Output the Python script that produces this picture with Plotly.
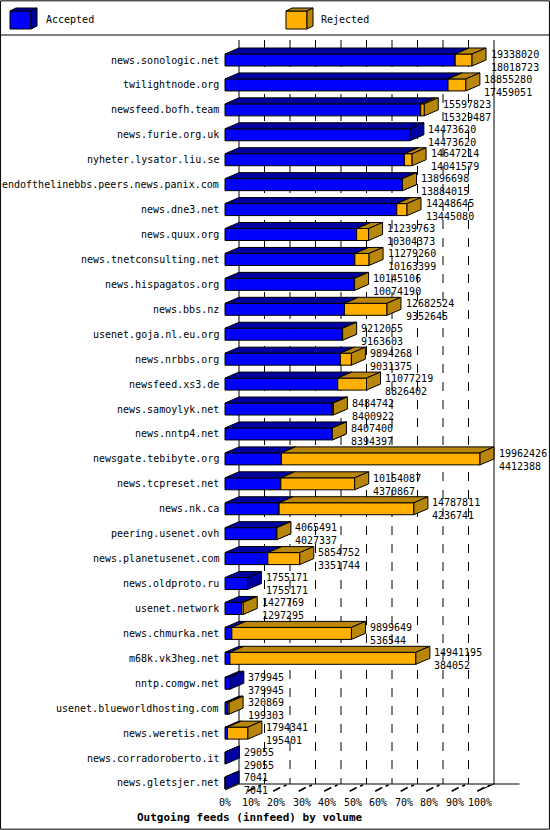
import plotly.graph_objects as go

feeds = ["news.sonologic.net", "twilightnode.org", "newsfeed.bofh.team", "news.furie.org.uk",
         "nyheter.lysator.liu.se", "endofthelinebbs.peers.news.panix.com", "news.dne3.net",
         "news.quux.org", "news.tnetconsulting.net", "news.hispagatos.org", "news.bbs.nz",
         "usenet.goja.nl.eu.org", "news.nrbbs.org", "newsfeed.xs3.de", "news.samoylyk.net",
         "news.nntp4.net", "newsgate.tebibyte.org", "news.tcpreset.net", "news.nk.ca",
         "peering.usenet.ovh", "news.planetusenet.com", "news.oldproto.ru", "usenet.network",
         "news.chmurka.net", "m68k.vk3heg.net", "nntp.comgw.net", "usenet.blueworldhosting.com",
         "news.weretis.net", "news.corradoroberto.it", "news.gletsjer.net"]
offered = [19338020, 18855280, 15597823, 14473620, 14647214, 13896698, 14248645, 11239763,
           11279260, 10145106, 12682524, 9212055, 9894268, 11077219, 8484742, 8407400,
           19962426, 10154087, 14787811, 4065491, 5854752, 1755171, 1427769, 9899649,
           14941195, 379945, 320869, 1794341, 29055, 7041]
accepted = [18018723, 17459051, 15329487, 14473620, 14041579, 13884015, 13445080, 10304373,
            10163399, 10074190, 9352645, 9163603, 9031375, 8826402, 8400922, 8394397,
            4412388, 4370867, 4236741, 4027337, 3351744, 1755171, 1297295, 536544,
            384052, 379945, 199303, 195401, 29055, 7041]
ticks = list(range(0, 101, 10))

W, H = 550, 830
X0, XSCALE = 225, 2.55        # px of 0%, px per %
Y0, YSTEP = 60, 24.93         # px of first row center, px per row
D = 14 / XSCALE               # depth in %
DY = 6 / YSTEP                # depth in rows
HH = 6 / YSTEP                # half bar height
FONT = "DejaVu Sans Mono"

BLUE, BLUE_D = "#0000ff", "#0000a0"
ORNG, ORNG_D = "#ffb000", "#b8860b"

mx = max(offered)
acc_pct = [a / mx * 100 for a in accepted]
off_pct = [o / mx * 100 for o in offered]

fig = go.Figure()

def px2row(p):
    return (p - Y0) / YSTEP

y_top, y_floor_back, y_floor_front = px2row(40), px2row(784), px2row(790)

# back wall gridlines
for v in ticks:
    fig.add_trace(go.Scatter(x=[v + D, v + D], y=[y_top, y_floor_back], mode="lines",
                             line=dict(color="black", width=1,
                                       dash="solid" if v in (0, 100) else "dash"),
                             hoverinfo="skip", showlegend=False))
# floor
fig.add_trace(go.Scatter(x=[0, D, 100 + D, 100, None, 100 + D, 100 + D + 10],
                         y=[y_floor_front, y_floor_back, y_floor_back, y_floor_front, None,
                            y_floor_back, y_floor_back],
                         mode="lines", line=dict(color="black", width=1),
                         hoverinfo="skip", showlegend=False))
tx, ty = [], []
for v in ticks[1:]:
    tx += [v - 0.2 * D, v + 0.3 * D, None, v + 0.55 * D, v + 0.75 * D, None]
    ty += [y_floor_front + 0.05, y_floor_front - 0.1, None,
           y_floor_front - 0.15, y_floor_front - 0.2, None]
fig.add_trace(go.Scatter(x=tx, y=ty, mode="lines", line=dict(color="black", width=1.5),
                         hoverinfo="skip", showlegend=False))


def box_faces(x0s, x1s):
    fx, fy, tx_, ty_, sx, sy = [], [], [], [], [], []
    for i, (a, b) in enumerate(zip(x0s, x1s)):
        if a is None:
            continue
        t, bt = i - HH, i + HH
        fx += [a, b, b, a, a, None]
        fy += [t, t, bt, bt, t, None]
        tx_ += [a, b, b + D, a + D, a, None]
        ty_ += [t, t, t - DY, t - DY, t, None]
        sx += [b, b + D, b + D, b, b, None]
        sy += [t, t - DY, bt - DY, bt, t, None]
    return (fx, fy), (tx_, ty_), (sx, sy)


def add_box(x0s, x1s, front, dark):
    (fx, fy), (tx_, ty_), (sx, sy) = box_faces(x0s, x1s)
    for xs, ys, c in ((fx, fy, front), (tx_, ty_, dark), (sx, sy, dark)):
        fig.add_trace(go.Scatter(x=xs, y=ys, mode="lines", fill="toself", fillcolor=c,
                                 line=dict(color="black", width=1),
                                 hoverinfo="skip", showlegend=False))


add_box([0] * len(acc_pct), acc_pct, BLUE, BLUE_D)
add_box([a if o > a else None for a, o in zip(acc_pct, off_pct)], off_pct, ORNG, ORNG_D)

ann = []
for i, name in enumerate(feeds):
    ann.append(dict(x=-1.5, y=i, text=name, xanchor="right", yanchor="middle",
                    showarrow=False, font=dict(family=FONT, size=10, color="black")))
    ann.append(dict(x=off_pct[i] + D + 1.0, y=i - HH - DY - 0.05,
                    text=f"{offered[i]}<br>{accepted[i]}", xanchor="left", yanchor="top",
                    align="left", showarrow=False,
                    font=dict(family=FONT, size=10, color="black")))
for v in ticks:
    ann.append(dict(x=v, y=px2row(802), text=f"{v}%", showarrow=False,
                    font=dict(family=FONT, size=10, color="black")))
ann.append(dict(x=(250 - X0) / XSCALE, y=px2row(817),
                text="<b>Outgoing feeds (innfeed) by volume</b>", showarrow=False,
                font=dict(family=FONT, size=11, color="black")))
ann.append(dict(xref="paper", yref="paper", x=44 / W, y=1 - 19 / H, text="Accepted",
                xanchor="left", yanchor="middle", showarrow=False,
                font=dict(family=FONT, size=10, color="black")))
ann.append(dict(xref="paper", yref="paper", x=319 / W, y=1 - 19 / H, text="Rejected",
                xanchor="left", yanchor="middle", showarrow=False,
                font=dict(family=FONT, size=10, color="black")))


def ppath(pts):
    return "M " + " L ".join(f"{x / W},{1 - y / H}" for x, y in pts) + " Z"


shapes = [dict(type="rect", xref="paper", yref="paper", x0=0.001, x1=0.999, y0=0.001, y1=0.999,
               line=dict(color="black", width=1)),
          dict(type="line", xref="paper", yref="paper", x0=0, x1=1, y0=1 - 35 / H, y1=1 - 35 / H,
               line=dict(color="black", width=1))]
for lx, front, dark in ((10, BLUE, BLUE_D), (286, ORNG, ORNG_D)):
    fw, top, bot, dx, dy = 21, 11, 29, 6, 3
    shapes.append(dict(type="path", xref="paper", yref="paper", fillcolor=front,
                       line=dict(color="black", width=1),
                       path=ppath([(lx, top), (lx + fw, top), (lx + fw, bot), (lx, bot)])))
    shapes.append(dict(type="path", xref="paper", yref="paper", fillcolor=dark,
                       line=dict(color="black", width=1),
                       path=ppath([(lx, top), (lx + dx, top - dy), (lx + fw + dx, top - dy),
                                   (lx + fw, top)])))
    shapes.append(dict(type="path", xref="paper", yref="paper", fillcolor=dark,
                       line=dict(color="black", width=1),
                       path=ppath([(lx + fw, top), (lx + fw + dx, top - dy),
                                   (lx + fw + dx, bot - dy), (lx + fw, bot)])))

fig.update_layout(
    width=W, height=H, margin=dict(l=0, r=0, t=0, b=0),
    paper_bgcolor="white", plot_bgcolor="white",
    xaxis=dict(visible=False, range=[-X0 / XSCALE, (W - X0) / XSCALE], fixedrange=True),
    yaxis=dict(visible=False, range=[px2row(H), px2row(0)], fixedrange=True),
    annotations=ann, shapes=shapes, showlegend=False,
)

fig.write_html("out.html", config={"displayModeBar": False},
               post_script="document.body.style.margin='0';")
